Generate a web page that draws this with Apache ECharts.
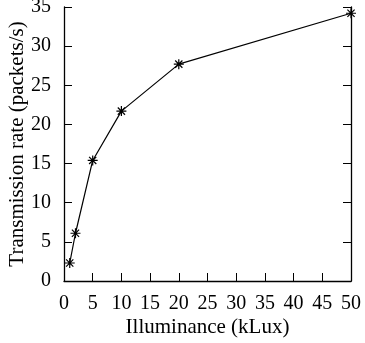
<!DOCTYPE html>
<html><head><meta charset="utf-8">
<script src="https://cdn.jsdelivr.net/npm/echarts@6/dist/echarts.min.js"></script>
<style>html,body{margin:0;padding:0;background:#fff}#c{width:365px;height:343px}</style>
</head><body><div id="c"></div>
<script>
const illuminance = [1, 2, 5, 10, 20, 50];
const rate = [2.3, 6.1, 15.4, 21.7, 27.7, 34.2];
const xTitle = 'Illuminance (kLux)';
const yTitle = 'Transmission rate (packets/s)';

const font = 'Liberation Serif';
const chart = echarts.init(document.getElementById('c'));
const star = 'path://M0,-5L0,5M-5,0L5,0M-3.6,-3.6L3.6,3.6M-3.6,3.6L3.6,-3.6';
chart.setOption({
  animation: false,
  backgroundColor: '#fff',
  grid: {left: 64, right: 14, top: 7, bottom: 62, containLabel: false, outerBoundsMode: 'none'},
  xAxis: {
    type: 'value', min: 0, max: 50, interval: 5,
    name: xTitle, nameLocation: 'middle', nameGap: 36, nameMoveOverlap: false,
    nameTextStyle: {fontFamily: font, fontSize: 21, color: '#000'},
    axisLine: {lineStyle: {color: '#000', width: 1.3}},
    axisTick: {inside: true, length: 8, lineStyle: {color: '#000'}},
    axisLabel: {fontFamily: font, fontSize: 20, color: '#000', margin: 13},
    splitLine: {show: false}
  },
  yAxis: [{
    type: 'value', min: 0, max: 35, interval: 5,
    name: yTitle, nameLocation: 'middle', nameGap: 36, nameMoveOverlap: false,
    nameTextStyle: {fontFamily: font, fontSize: 21, color: '#000'},
    axisLine: {show: true, lineStyle: {color: '#000', width: 1.3}},
    axisTick: {show: true, inside: true, length: 8, lineStyle: {color: '#000'}},
    axisLabel: {fontFamily: font, fontSize: 20, color: '#000', margin: 13},
    splitLine: {show: false}
  }, {
    type: 'value', min: 0, max: 35, interval: 5, position: 'right',
    axisLine: {show: true, lineStyle: {color: '#000', width: 1.3}},
    axisTick: {show: true, inside: true, length: 8, lineStyle: {color: '#000'}},
    axisLabel: {show: false},
    splitLine: {show: false}
  }],
  series: [{
    type: 'line',
    data: illuminance.map((x, i) => [x, rate[i]]),
    symbol: star, symbolSize: 10,
    lineStyle: {color: '#000', width: 1.2},
    itemStyle: {color: 'none', borderColor: '#000', borderWidth: 1.2},
    clip: false
  }]
});
</script></body></html>
